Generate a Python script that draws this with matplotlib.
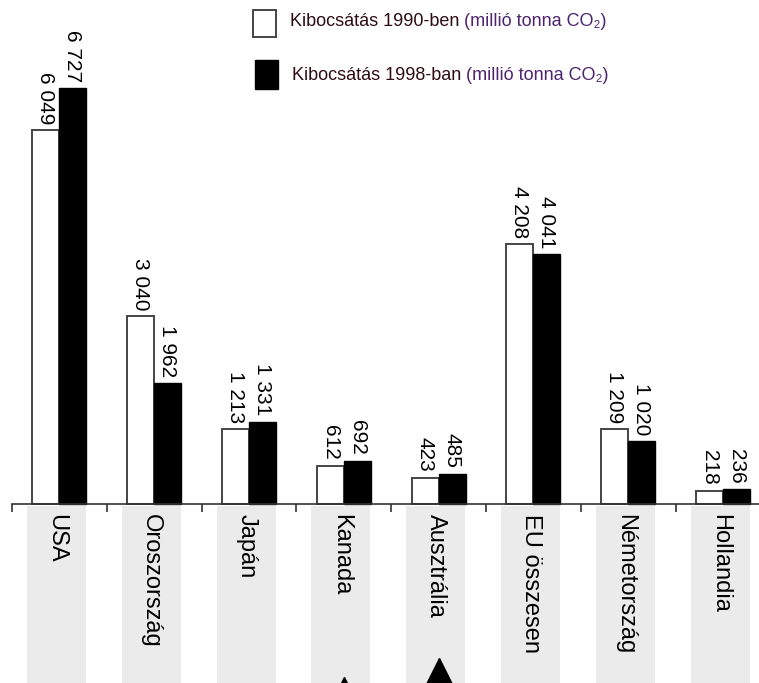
import matplotlib
matplotlib.use("Agg")
from matplotlib import pyplot as plt
from matplotlib.patches import Rectangle

# data (million tonnes CO2)
countries = ["USA", "Oroszország", "Japán", "Kanada", "Ausztrália",
             "EU összesen", "Németország", "Hollandia"]
em_1990 = [6049, 3040, 1213, 612, 423, 4208, 1209, 218]
em_1998 = [6727, 1962, 1331, 692, 485, 4041, 1020, 236]
arrow_cats = [3, 4]          # the black triangles at the bottom
arrow_sizes = [26, 29]

leg_1990 = "Kibocsátás 1990-ben"
leg_1998 = "Kibocsátás 1998-ban"
leg_unit = " (millió tonna CO₂)"

W, H = 759, 683
k = 0.0618                    # px per unit
step = 94.8                   # px per category
axis_px = 504                 # axis line, px from top
ymax = axis_px / k
ymin = -(H - axis_px) / k
x_left = -0.5 - 12 / step
x_right = x_left + W / step

fam = ["Liberation Sans", "DejaVu Sans"]

fig = plt.figure(figsize=(W / 100, H / 100), dpi=100)
ax = fig.add_axes([0, 0, 1, 1])

def fmt(v):
    return f"{v:,}".replace(",", " ")

bw = 0.285
n = len(countries)
xs = list(range(n))

# grey label bands under the axis
band_top = (H - axis_px - 2) / H
for i in xs:
    ax.axvspan(i - 0.342, i + 0.281, ymin=0, ymax=band_top,
               color="#ebebeb", lw=0, zorder=0)

ax.bar([x - bw / 2 for x in xs], em_1990, width=bw, color="white",
       edgecolor="#444444", linewidth=1.4, zorder=2)
ax.bar([x + bw / 2 for x in xs], em_1998, width=bw, color="black",
       edgecolor="black", linewidth=1.0, zorder=2)

off = 6 / k
for i in xs:
    ax.text(i - bw / 2, em_1990[i] + off, fmt(em_1990[i]), rotation=270,
            ha="center", va="bottom", fontsize=15, family=fam)
    ax.text(i + bw / 2, em_1998[i] + off, fmt(em_1998[i]), rotation=270,
            ha="center", va="bottom", fontsize=15, family=fam)
    ax.text(i - 0.03, -10 / k, countries[i], rotation=270,
            ha="center", va="top", fontsize=17, family=fam)

# axis line with downward ticks at group boundaries
for s in ["top", "right", "left"]:
    ax.spines[s].set_visible(False)
ax.spines["bottom"].set_position(("data", 0))
ax.spines["bottom"].set_bounds(-0.5, x_right)
ax.spines["bottom"].set_linewidth(1.2)
ax.spines["bottom"].set_color("#333333")
ax.set_xticks([i - 0.5 for i in range(n)])
ax.tick_params(axis="x", direction="out", length=6, width=1.2,
               color="#333333", labelbottom=False)
ax.set_yticks([])

# black triangles at the bottom
tri_y = [-(695 - axis_px) / k, -(678 - axis_px) / k]
for c, y, s in zip(arrow_cats, tri_y, arrow_sizes):
    ax.plot([c], [y], marker="^", color="black", markersize=s, zorder=3)

ax.set_xlim(x_left, x_right)
ax.set_ylim(ymin, ymax)

# legend
fig.patches.append(Rectangle((253 / W, 1 - 37 / H), 23 / W, 27 / H,
                             transform=fig.transFigure, facecolor="white",
                             edgecolor="#444444", lw=1.4))
fig.patches.append(Rectangle((255 / W, 1 - 89 / H), 23 / W, 29 / H,
                             transform=fig.transFigure, facecolor="black",
                             edgecolor="black", lw=1))
fig.canvas.draw()
r = fig.canvas.get_renderer()
for txt, x0, yc in [(leg_1990, 290, 22), (leg_1998, 292, 75)]:
    t = fig.text(x0 / W, 1 - yc / H, txt, ha="left", va="center",
                 fontsize=13, color="#2e0c12", family=fam)
    bb = t.get_window_extent(renderer=r)
    fig.text(bb.x1 / W, 1 - yc / H, leg_unit, ha="left", va="center",
             fontsize=13, color="#4e2470", family=fam)

fig.savefig("out.png", dpi=100)
